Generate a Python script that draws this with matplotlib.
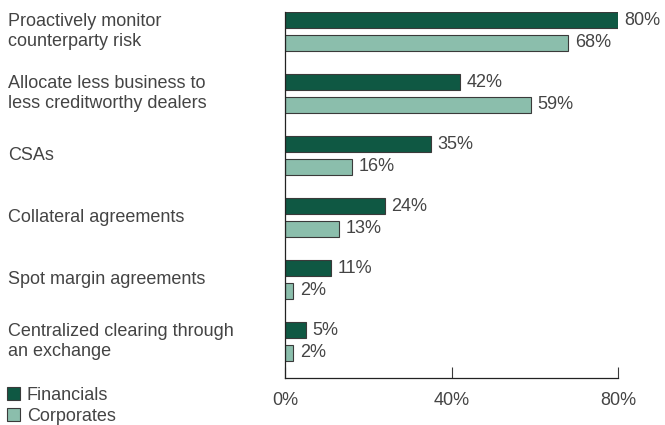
import numpy as np
import matplotlib
matplotlib.use("Agg")
from matplotlib import pyplot as plt
from matplotlib.patches import Patch

plt.rcParams['font.family'] = ['Liberation Sans', 'DejaVu Sans']

categories = [
    "Proactively monitor\ncounterparty risk",
    "Allocate less business to\nless creditworthy dealers",
    "CSAs",
    "Collateral agreements",
    "Spot margin agreements",
    "Centralized clearing through\nan exchange",
]
financials = [80, 42, 35, 24, 11, 5]
corporates = [68, 59, 16, 13, 2, 2]
series_names = ["Financials", "Corporates"]
xticks = [0, 40, 80]

DARK = "#0f5843"
LIGHT = "#8bbeac"
EDGE = "#3a3a3a"
TXT = "#444444"
FS = 13

fig = plt.figure(figsize=(6.65, 4.25), dpi=100)
ax = fig.add_axes([285 / 665, 1 - 378 / 425, 333 / 665, 366 / 425])

y = np.arange(len(categories))
off = 0.185
h = 0.26
ax.barh(y - off, financials, height=h, color=DARK, edgecolor=EDGE, linewidth=0.8)
ax.barh(y + off, corporates, height=h, color=LIGHT, edgecolor=EDGE, linewidth=0.8)

for yi, v in zip(y - off, financials):
    ax.text(v + 1.6, yi, f"{v}%", va="center", ha="left", fontsize=FS, color=TXT, clip_on=False)
for yi, v in zip(y + off, corporates):
    ax.text(v + 1.6, yi, f"{v}%", va="center", ha="left", fontsize=FS, color=TXT, clip_on=False)

# category names sit at the far left of the figure
for yi, name in zip(y, categories):
    ax.text(-66.6, yi, name, va="center", ha="left", fontsize=FS, color=TXT,
            linespacing=1.25, clip_on=False)

ax.set_xlim(0, 80)
ax.set_ylim(len(categories) - 1 + 0.589, -0.315)
ax.set_yticks([])
ax.set_xticks(xticks)
ax.set_xticklabels([f"{t}%" for t in xticks], fontsize=FS, color=TXT)
ax.tick_params(axis="x", direction="in", length=8, width=0.8, color=EDGE, pad=10)
ax.spines["top"].set_visible(False)
ax.spines["right"].set_visible(False)
ax.spines["left"].set_color("#222222")
ax.spines["bottom"].set_color("#222222")
ax.spines["left"].set_linewidth(0.9)
ax.spines["bottom"].set_linewidth(0.9)

handles = [Patch(facecolor=DARK, edgecolor=EDGE, linewidth=0.8),
           Patch(facecolor=LIGHT, edgecolor=EDGE, linewidth=0.8)]
fig.legend(handles, series_names, loc="upper left", bbox_to_anchor=(0.005, 1 - 383 / 425),
           frameon=False, fontsize=FS, handlelength=0.75, handleheight=0.75,
           handletextpad=0.35, labelspacing=0.25, borderpad=0.2, borderaxespad=0,
           labelcolor=TXT)

fig.savefig("out.png", dpi=100)
